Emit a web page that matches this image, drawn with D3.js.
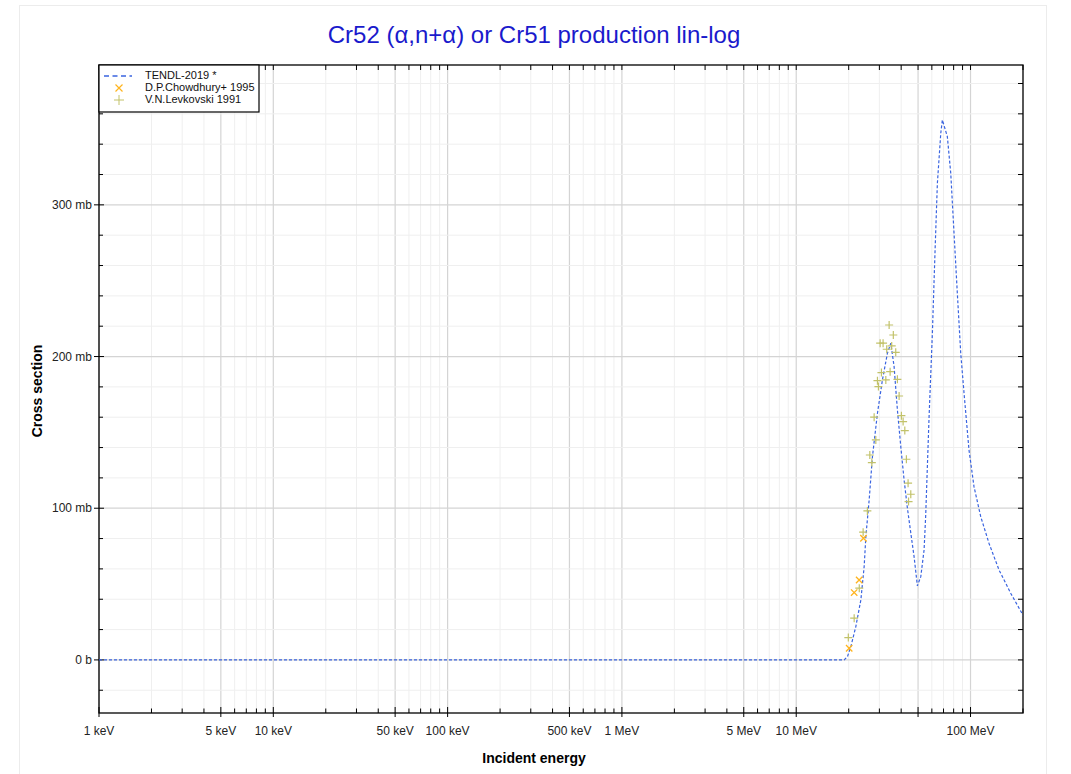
<!DOCTYPE html>
<html><head><meta charset="utf-8">
<script src="https://cdn.jsdelivr.net/npm/d3@7"></script>
<style>body{margin:0;background:#fff;font-family:"Liberation Sans",Arial,sans-serif;}</style>
</head><body>
<svg id="c" width="1071" height="774"></svg>
<script>
// TENDL-2019 curve (energy in MeV, cross section in mb)
const tendlE = [0.001, 18.84, 19.68, 20.58, 21.98, 23.49, 24.53, 25.09, 26.21, 27.37, 29.24, 31.23, 33.36, 34.89, 36.44, 38.06, 39.8, 41.57, 43.42, 45.42, 47.44, 49.56, 51.83, 54.14, 55.3, 57.84, 60.42, 62.61, 64.54, 67.5, 68.94, 73.62, 77.0, 80.42, 84.0, 87.86, 91.79, 98.0, 104.7, 114.4, 127.6, 145.7, 170.0, 200.0];
const tendlY = [0, 0, 2.2, 8.8, 22, 39.6, 61.5, 81.3, 105.5, 134, 162.6, 184.6, 202.2, 208.8, 193.3, 164.8, 140.6, 118.7, 100.2, 83.7, 68.1, 48.8, 54.9, 72.5, 95, 160.4, 215.4, 270.3, 314.3, 347.2, 356, 345, 320.9, 281.3, 241.7, 202.2, 175.8, 138.4, 114.2, 94.5, 76.9, 59.3, 44.0, 29.5];
// D.P.Chowdhury+ 1995
const chowE = [20.13, 21.50, 22.96, 24.31];
const chowY = [7.7, 44.4, 52.7, 80.2];
// V.N.Levkovski 1991
const levE = [19.9, 21.5, 23.0, 24.2, 25.6, 26.44, 27.15, 28.62, 27.99, 29.62, 29.24, 30.82, 32.66, 30.3, 31.5, 34.12, 33.05, 35.3, 36.06, 37.23, 34.57, 38.06, 38.93, 40.12, 41.04, 41.97, 42.86, 43.83, 45.42, 44.1];
const levY = [14.7, 27.5, 47.3, 84.2, 98.2, 135.1, 130.1, 145.0, 160.0, 180.2, 184.1, 189.4, 184.6, 208.8, 208.8, 220.8, 204.8, 207, 214.2, 202.8, 190, 185.0, 174.0, 161.0, 157.1, 151.2, 132.3, 116.5, 109.2, 104.4];
// tick labels
const xTickVals = [0.001, 0.005, 0.01, 0.05, 0.1, 0.5, 1, 5, 10, 100];
const xTickLabels = ["1 keV", "5 keV", "10 keV", "50 keV", "100 keV", "500 keV", "1 MeV", "5 MeV", "10 MeV", "100 MeV"];
const yTickVals = [0, 100, 200, 300];
const yTickLabels = ["0 b", "100 mb", "200 mb", "300 mb"];
const legendLabels = ["TENDL-2019 *", "D.P.Chowdhury+ 1995", "V.N.Levkovski 1991"];

const svg = d3.select("#c");
const L = 99, R = 1023, T = 65, B = 713;
const x = d3.scaleLog().domain([0.001, 200]).range([L, R]);
const y = d3.scaleLinear().domain([-35, 392.2]).range([B, T]);

// outer border
svg.append("rect").attr("x", 19.5).attr("y", 5.5).attr("width", 1027).attr("height", 780)
  .attr("fill", "none").attr("stroke", "#ececec");

// grid
const g = svg.append("g");
const minorX = [];
for (let d = -3; d <= 2; d++) for (let m = 1; m <= 9; m++) { const v = m * Math.pow(10, d); if (v >= 0.001 && v <= 200) minorX.push(v); }
const isMajor = v => [1, 5].includes(Math.round(v / Math.pow(10, Math.floor(Math.log10(v) + 1e-9))));
minorX.forEach(v => {
  const major = isMajor(v);
  g.append("line").attr("x1", x(v)).attr("x2", x(v)).attr("y1", T).attr("y2", B)
    .attr("stroke", major ? "#d4d4d4" : "#efefef").attr("stroke-width", major ? 1.2 : 1);
});
for (let v = -20; v <= 380; v += 20) {
  const major = v % 100 === 0;
  g.append("line").attr("x1", L).attr("x2", R).attr("y1", y(v)).attr("y2", y(v))
    .attr("stroke", major ? "#d4d4d4" : "#efefef").attr("stroke-width", major ? 1.2 : 1);
}

// frame
svg.append("rect").attr("x", L).attr("y", T).attr("width", R - L).attr("height", B - T)
  .attr("fill", "none").attr("stroke", "#000").attr("stroke-width", 1.3);

// x ticks
const tx = svg.append("g");
minorX.forEach(v => {
  const major = isMajor(v);
  const len = major ? 8 : 5;
  tx.append("line").attr("x1", x(v)).attr("x2", x(v)).attr("y1", B - len / 2 - 2).attr("y2", B + (major ? 4 : 0))
    .attr("stroke", "#000").attr("stroke-width", 1);
  tx.append("line").attr("x1", x(v)).attr("x2", x(v)).attr("y1", T).attr("y2", T + 5)
    .attr("stroke", "#000").attr("stroke-width", 1);
});
xTickVals.forEach((v, i) => {
  tx.append("text").attr("x", x(v)).attr("y", B + 22).attr("text-anchor", "middle")
    .attr("font-size", 12).attr("fill", "#222").text(xTickLabels[i]);
});
// y ticks
const ty = svg.append("g");
for (let v = -20; v <= 380; v += 20) {
  const major = v % 100 === 0;
  ty.append("line").attr("x1", major ? L - 5 : L).attr("x2", major ? L + 5 : L + 4).attr("y1", y(v)).attr("y2", y(v))
    .attr("stroke", "#000");
  ty.append("line").attr("x1", R - 5).attr("x2", R).attr("y1", y(v)).attr("y2", y(v)).attr("stroke", "#000");
}
yTickVals.forEach((v, i) => {
  ty.append("text").attr("x", L - 7).attr("y", y(v) + 4).attr("text-anchor", "end")
    .attr("font-size", 12).attr("fill", "#222").text(yTickLabels[i]);
});

// axis titles
svg.append("text").attr("x", 534).attr("y", 763).attr("text-anchor", "middle")
  .attr("font-size", 14).attr("font-weight", "bold").text("Incident energy");
svg.append("text").attr("transform", "translate(42,391) rotate(-90)").attr("text-anchor", "middle")
  .attr("font-size", 14).attr("font-weight", "bold").text("Cross section");
// title
svg.append("text").attr("x", 534).attr("y", 43).attr("text-anchor", "middle")
  .attr("font-size", 24).attr("fill", "#1a1acc").text("Cr52 (α,n+α) or Cr51 production lin-log");

// data
svg.append("clipPath").attr("id", "clp").append("rect").attr("x", L).attr("y", T).attr("width", R - L).attr("height", B - T);
const plot = svg.append("g").attr("clip-path", "url(#clp)");
const line = d3.line().x(d => x(d[0])).y(d => y(d[1]));
plot.append("path").datum(tendlE.map((e, i) => [e, tendlY[i]])).attr("d", line)
  .attr("fill", "none").attr("stroke", "#3a64e0").attr("stroke-width", 1.2).attr("stroke-dasharray", "3,2");

const levCol = "#c2c26a", chowCol = "#ffb41e";
levE.forEach((e, i) => {
  const cx = x(e), cy = y(levY[i]), s = 4;
  plot.append("path").attr("d", `M${cx - s},${cy}H${cx + s}M${cx},${cy - s}V${cy + s}`)
    .attr("stroke", levCol).attr("stroke-width", 1.2).attr("fill", "none");
});
chowE.forEach((e, i) => {
  const cx = x(e), cy = y(chowY[i]), s = 3.2;
  plot.append("path").attr("d", `M${cx - s},${cy - s}L${cx + s},${cy + s}M${cx - s},${cy + s}L${cx + s},${cy - s}`)
    .attr("stroke", chowCol).attr("stroke-width", 1.3).attr("fill", "none");
});

// legend
const lg = svg.append("g");
lg.append("rect").attr("x", 99).attr("y", 65).attr("width", 160).attr("height", 47)
  .attr("fill", "#fff").attr("stroke", "#000").attr("stroke-width", 1.2);
lg.append("line").attr("x1", 104).attr("x2", 132).attr("y1", 76).attr("y2", 76)
  .attr("stroke", "#3a64e0").attr("stroke-width", 1.5).attr("stroke-dasharray", "5,3.5");
{ const cx = 119, cy = 88, s = 3.5;
  lg.append("path").attr("d", `M${cx - s},${cy - s}L${cx + s},${cy + s}M${cx - s},${cy + s}L${cx + s},${cy - s}`)
    .attr("stroke", chowCol).attr("stroke-width", 1.2).attr("fill", "none"); }
{ const cx = 119, cy = 100, s = 5;
  lg.append("path").attr("d", `M${cx - s},${cy}H${cx + s}M${cx},${cy - s}V${cy + s}`)
    .attr("stroke", levCol).attr("stroke-width", 1).attr("fill", "none"); }
legendLabels.forEach((t, i) => {
  lg.append("text").attr("x", 145).attr("y", 79 + i * 12).attr("font-size", 11).attr("fill", "#111").text(t);
});
</script>
</body></html>
